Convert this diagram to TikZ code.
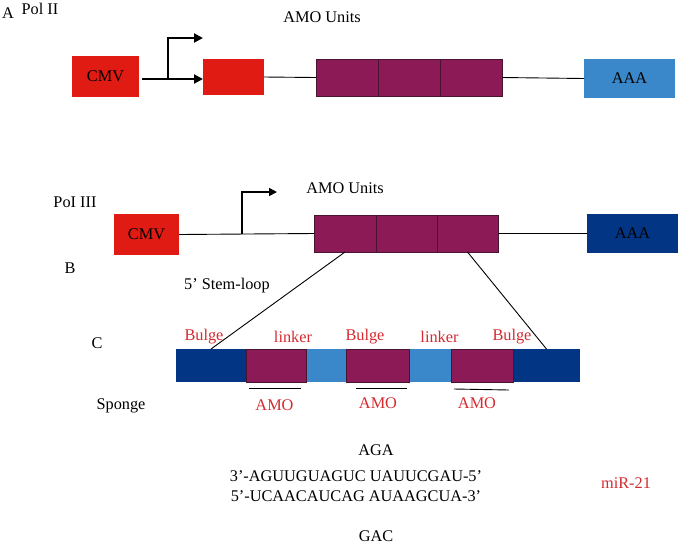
\documentclass[tikz,border=0pt]{standalone}
\usepackage{fontspec}
\setmainfont{Liberation Serif}
\usetikzlibrary{arrows.meta}
\definecolor{cmvred}{HTML}{E01B14}
\definecolor{amopurple}{HTML}{8C1A56}
\definecolor{amoedge}{HTML}{4A1430}
\definecolor{lightblue}{HTML}{3A88C9}
\definecolor{darkblue}{HTML}{023584}
\definecolor{labelred}{HTML}{D42A30}
\tikzset{
  x=1pt,y=-1pt,
  txt/.style={font=\fontsize{16.3}{18}\selectfont, inner sep=0pt},
  redtxt/.style={txt, text=labelred},
  boxnode/.style={inner sep=0pt, outer sep=0pt, font=\fontsize{16.3}{18}\selectfont},
  cmvbox/.style={boxnode, fill=cmvred},
  amobox/.style={boxnode, fill=amopurple, draw=amoedge, line width=0.8pt},
  lbbox/.style={boxnode, fill=lightblue},
  dbbox/.style={boxnode, fill=darkblue},
  thinline/.style={line width=0.9pt},
  promo/.style={line width=2pt, -{Triangle[length=9pt,width=9pt]}},
  promob/.style={line width=1.6pt, -{Triangle[length=8pt,width=8pt]}},
}
\begin{document}
\begin{tikzpicture}
\useasboundingbox (0,0) rectangle (678,547);
% ---------- A ----------
\node[txt] (lA) at (8,13) {A};
\node[txt] (polII) at (40,9) {Pol II};
\node[txt] (unitsA) at (322,17) {AMO Units};
\node[cmvbox, minimum width=67pt, minimum height=41pt] (cmvA) at (105.5,76.5) {CMV};
\node[cmvbox, minimum width=61pt, minimum height=36pt] (redA) at (233.5,77) {};
\node[amobox, minimum width=62pt, minimum height=37pt] (amoA1) at (347,77.5) {};
\node[amobox, minimum width=62pt, minimum height=37pt] (amoA2) at (409,77.5) {};
\node[amobox, minimum width=62pt, minimum height=37pt] (amoA3) at (471,77.5) {};
\node[lbbox, minimum width=91pt, minimum height=39pt] (aaaA) at (629.5,78.5) {AAA};
\coordinate (startA) at (142,79);
\coordinate (pA) at (168,79);
\coordinate (tipA) at (203,38);
\draw[promo] (startA) -- (redA.west |- startA);
\draw[promo] (pA) |- (tipA);
\draw[thinline] (redA.east) -- (amoA1.west);
\draw[thinline] (amoA3.east) -- (aaaA.west);
% ---------- B ----------
\node[txt] (polIII) at (75,202) {PoI III};
\node[txt] (unitsB) at (345,188) {AMO Units};
\node[txt] (lB) at (70,268) {B};
\node[txt] (stem) at (227,286) {5’ Stem-loop};
\node[cmvbox, minimum width=65pt, minimum height=41pt] (cmvB) at (146.5,234.5) {CMV};
\node[amobox, minimum width=62pt, minimum height=37pt] (amoB1) at (345,233.5) {};
\node[amobox, minimum width=61pt, minimum height=37pt] (amoB2) at (406.5,233.5) {};
\node[amobox, minimum width=61pt, minimum height=37pt] (amoB3) at (467.5,233.5) {};
\node[dbbox, minimum width=91pt, minimum height=39pt] (aaaB) at (632.5,233.5) {AAA};
\draw[thinline] (cmvB.east) -- (amoB1.west);
\draw[thinline] (amoB3.east) -- (aaaB.west);
\coordinate (pB) at (242,234);
\coordinate (tipB) at (277,192);
\draw[promob] (pB) |- (tipB);
% ---------- C ----------
\node[txt] (lC) at (97,343) {C};
\node[txt] (sponge) at (121,406) {Sponge};
\node[dbbox, minimum width=70pt, minimum height=33pt] (s1) at (211,365.5) {};
\node[amobox, draw=none, minimum width=60pt, minimum height=33pt] (s2) at (276,365.5) {};
\node[lbbox, minimum width=40pt, minimum height=33pt] (s3) at (326,365.5) {};
\node[amobox, draw=none, minimum width=63pt, minimum height=33pt] (s4) at (377.5,365.5) {};
\node[lbbox, minimum width=42pt, minimum height=33pt] (s5) at (430,365.5) {};
\node[amobox, draw=none, minimum width=62pt, minimum height=33pt] (s6) at (482,365.5) {};
\node[dbbox, minimum width=67pt, minimum height=33pt] (s7) at (546.5,365.5) {};
\draw[amoedge, line width=0.8pt] (s2.north west) rectangle (s2.south east);
\draw[amoedge, line width=0.8pt] (s4.north west) rectangle (s4.south east);
\draw[amoedge, line width=0.8pt] (s6.north west) rectangle (s6.south east);
\draw[thinline] (amoB1.south) -- (s1.north);
\draw[thinline] (amoB3.south) -- (s7.north);
\node[redtxt] (b1) at (204,337) {Bulge};
\node[redtxt] (k1) at (293,337) {linker};
\node[redtxt] (b2) at (365,337) {Bulge};
\node[redtxt] (k2) at (439.5,337) {linker};
\node[redtxt] (b3) at (512,337) {Bulge};
\draw[thinline] (249,388) -- (301,388);
\draw[thinline] (356,388) -- (407,388);
\draw[thinline] (454,389) -- (509,390);
\node[redtxt] (a1) at (274.5,405) {AMO};
\node[redtxt] (a2) at (378,403) {AMO};
\node[redtxt] (a3) at (477,403) {AMO};
% ---------- sequences ----------
\node[txt] (aga) at (376,450) {AGA};
\node[txt] (seq1) at (356,476) {3’-AGUUGUAGUC UAUUCGAU-5’};
\node[txt] (seq2) at (356,496) {5’-UCAACAUCAG AUAAGCUA-3’};
\node[txt] (gac) at (376,536) {GAC};
\node[redtxt] (mir) at (626,483) {miR-21};
\end{tikzpicture}
\end{document}
